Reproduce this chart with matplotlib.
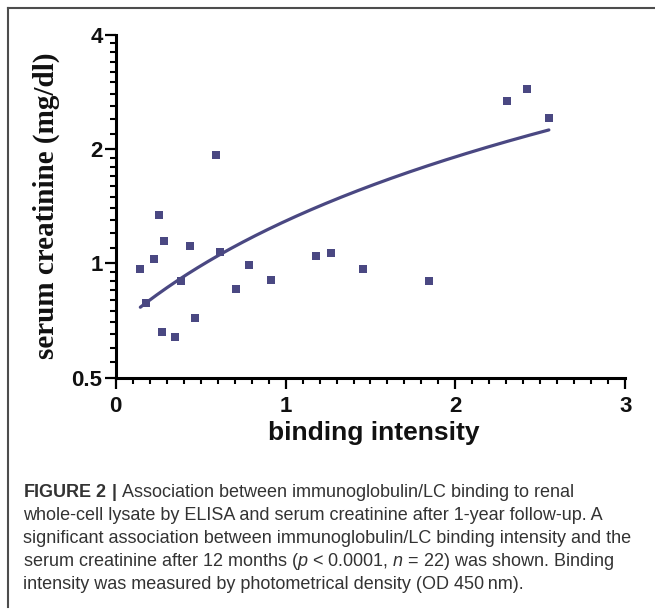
import numpy as np
import matplotlib
matplotlib.use("Agg")
import matplotlib.pyplot as plt
from matplotlib.ticker import FixedLocator, FixedFormatter, MultipleLocator
from matplotlib.lines import Line2D

# ---- data ----
binding = [0.145, 0.180, 0.226, 0.255, 0.270, 0.285, 0.351, 0.384, 0.437, 0.467,
           0.593, 0.614, 0.708, 0.782, 0.912, 1.180, 1.268, 1.453, 1.846,
           2.306, 2.419, 2.550]
creatinine = [0.968, 0.787, 1.026, 1.343, 0.660, 1.147, 0.641, 0.898, 1.109, 0.720,
              1.930, 1.069, 0.859, 0.988, 0.907, 1.047, 1.064, 0.968, 0.898,
              2.673, 2.880, 2.415]
x_ticks = [0, 1, 2, 3]
y_ticks = [0.5, 1, 2, 4]
y_tick_labels = ["0.5", "1", "2", "4"]
caption_lines = [
    r"$\mathbf{FIGURE\ 2\ |}$ Association between immunoglobulin/LC binding to renal",
    "whole-cell lysate by ELISA and serum creatinine after 1-year follow-up. A",
    "significant association between immunoglobulin/LC binding intensity and the",
    r"serum creatinine after 12 months ($p$ < 0.0001, $n$ = 22) was shown. Binding",
    "intensity was measured by photometrical density (OD 450\u2009nm).",
]

plt.rcParams['mathtext.fontset'] = 'custom'
plt.rcParams['mathtext.rm'] = 'Liberation Sans'
plt.rcParams['mathtext.it'] = 'Liberation Sans:italic'
plt.rcParams['mathtext.bf'] = 'Liberation Sans:bold'

W, H = 655, 610
fig = plt.figure(figsize=(W / 100, H / 100), dpi=100)
fig.patch.set_facecolor('white')

def fx(px):
    return px / W

def fy(py):
    return 1 - py / H

ax_l, ax_r, ax_t, ax_b = 115.7, 625.3, 35.0, 377.7
ax = fig.add_axes([fx(ax_l), fy(ax_b), fx(ax_r) - fx(ax_l), fy(ax_t) - fy(ax_b)])

col = '#4a4882'
x = np.array(binding)
y = np.array(creatinine)
ax.plot(x, y, linestyle='none', marker='s', markersize=5.2, color=col,
        markeredgewidth=0, clip_on=False, zorder=3)

coef = np.polyfit(x, y, 1)
xs = np.linspace(x.min(), x.max(), 200)
ax.plot(xs, np.polyval(coef, xs), color=col, lw=2.3, solid_capstyle='round', zorder=2)

ax.set_yscale('log', base=2)
ax.set_ylim(0.5, 4)
ax.set_xlim(0, 3)
ax.yaxis.set_major_locator(FixedLocator(y_ticks))
ax.yaxis.set_major_formatter(FixedFormatter(y_tick_labels))
minor_y = [b * s for b in (0.5, 1, 2) for s in np.arange(1.1, 1.95, 0.1)]
ax.yaxis.set_minor_locator(FixedLocator(minor_y))
ax.yaxis.set_minor_formatter(FixedFormatter([""] * len(minor_y)))
ax.xaxis.set_major_locator(FixedLocator(x_ticks))
ax.xaxis.set_minor_locator(MultipleLocator(0.1))

for s in ('top', 'right'):
    ax.spines[s].set_visible(False)
for s in ('left', 'bottom'):
    ax.spines[s].set_linewidth(2.2)
    ax.spines[s].set_color('black')

ax.tick_params(which='major', direction='out', length=8, width=1.6, color='black')
ax.tick_params(which='minor', direction='out', length=4.5, width=1.5, color='black')
ax.tick_params(axis='x', which='major', pad=5.5)
ax.tick_params(axis='y', which='major', pad=1.5)
for lab in ax.get_xticklabels() + ax.get_yticklabels():
    lab.set_fontfamily('Liberation Sans')
    lab.set_fontweight('bold')
    lab.set_fontsize(16)
    lab.set_color('#111111')

# axis labels
fig.text(fx(60), fy(205.5), "serum creatinine (mg/dl)", rotation=90,
         ha='right', va='center', fontfamily='Liberation Serif',
         fontweight='bold', fontsize=21, color='#111111')
fig.text(fx(373.5), fy(440), "binding intensity", ha='center', va='baseline',
         fontfamily='Liberation Sans', fontweight='bold', fontsize=19,
         color='#111111')

# caption
baselines = [497, 520, 543, 566, 589]
for line, b in zip(caption_lines, baselines):
    fig.text(fx(22.7), fy(b), line, ha='left', va='baseline',
             fontfamily=['Liberation Sans', 'DejaVu Sans'], fontsize=13,
             color='#333333')

# frame lines (top and left)
fig.add_artist(Line2D([fx(7.5), 1.0], [fy(8), fy(8)], color='#4d4d4d', lw=1.5))
fig.add_artist(Line2D([fx(7.5), fx(7.5)], [fy(8), fy(607)], color='#4d4d4d', lw=1.5))

fig.savefig('out.png', dpi=100)
